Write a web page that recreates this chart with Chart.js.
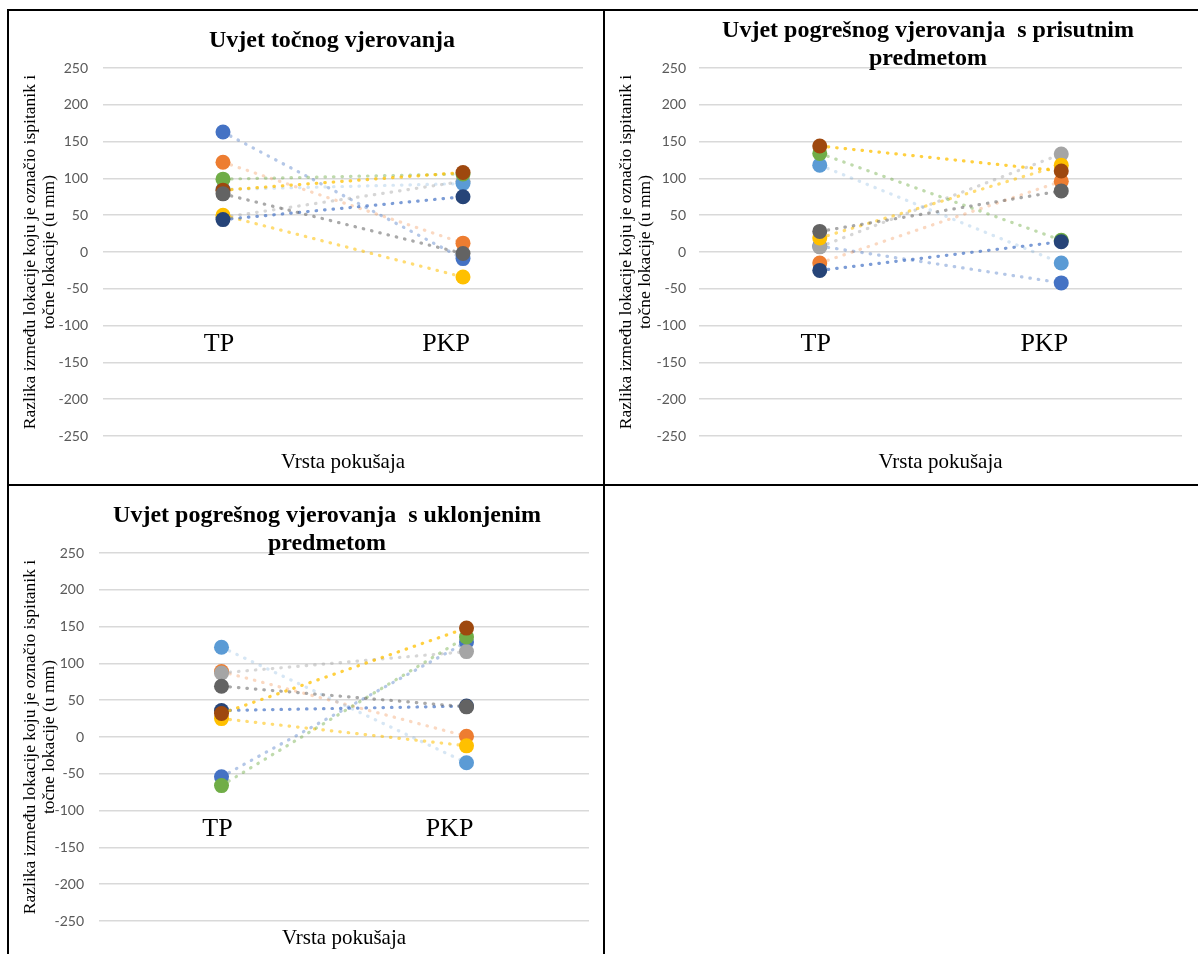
<!DOCTYPE html>
<html>
<head>
<meta charset="utf-8">
<script src="https://cdn.jsdelivr.net/npm/chart.js@4.4.1/dist/chart.umd.min.js"></script>
<style>
html, body { margin: 0; padding: 0; background: #fff; width: 1198px; height: 954px; overflow: hidden; position: relative; }
.cell { position: absolute; border: 2px solid #000; box-sizing: border-box; }
canvas { position: absolute; }
.ttl { position: absolute; width: 600px; text-align: center; white-space: pre;
       font-family: 'Liberation Serif', 'Times New Roman', serif; font-weight: bold;
       font-size: 24px; line-height: 27.6px; color: #000; }
</style>
</head>
<body>
<div class="cell" style="left:7px;top:9px;width:598px;height:477px"></div>
<div class="cell" style="left:603px;top:9px;width:700px;height:477px"></div>
<div class="cell" style="left:7px;top:484px;width:598px;height:600px"></div>
<div class="cell" style="left:603px;top:484px;width:700px;height:600px"></div>
<canvas id="c1" width="594" height="473" style="left:9px;top:11px"></canvas>
<canvas id="c2" width="593" height="473" style="left:605px;top:11px"></canvas>
<canvas id="c3" width="594" height="468" style="left:9px;top:486px"></canvas>
<div class="ttl" id="t1" style="left:32px;top:26px"></div>
<div class="ttl" id="t2" style="left:628px;top:16px"></div>
<div class="ttl" id="t3" style="left:27px;top:501px"></div>
<script>
// ---------- data ----------
const CATEGORIES = ['TP', 'PKP'];
const SERIES = ['Ispitanik 1', 'Ispitanik 2', 'Ispitanik 3', 'Ispitanik 4', 'Ispitanik 5',
                'Ispitanik 6', 'Ispitanik 7', 'Ispitanik 8', 'Ispitanik 9'];
const TITLE_TOCNO = ['Uvjet točnog vjerovanja'];
const TITLE_PRISUTNI = ['Uvjet pogrešnog vjerovanja  s prisutnim', 'predmetom'];
const TITLE_UKLONJENI = ['Uvjet pogrešnog vjerovanja  s uklonjenim', 'predmetom'];
const Y_TITLE = ['Razlika između lokacije koju je označio ispitanik i', 'točne lokacije (u mm)'];
const X_TITLE = 'Vrsta pokušaja';
const Y_MIN = -250, Y_MAX = 250, Y_STEP = 50;

const TOCNO_TP      = [163, 122, 47, 50, 85, 99, 44, 84, 79];
const TOCNO_PKP     = [-9, 12, 96, -34, 93, 106, 75, 108, -2];
const PRISUTNI_TP   = [8, -15, 7, 19, 118, 134, -25, 144, 28];
const PRISUTNI_PKP  = [-42, 96, 133, 118, -15, 16, 14, 110, 83];
const UKLONJENI_TP  = [-54, 89, 87, 25, 122, -66, 36, 32, 69];
const UKLONJENI_PKP = [129, 1, 116, -12, -35, 136, 42, 148, 41];

// ---------- style ----------
const MARKER_COLORS = ['#4472C4', '#ED7D31', '#A5A5A5', '#FFC000', '#5B9BD5',
                       '#70AD47', '#264478', '#9E480E', '#636363'];
const LINE_COLORS = ['rgba(68,114,196,0.40)', 'rgba(237,125,49,0.30)', 'rgba(165,165,165,0.45)',
                     'rgba(255,192,0,0.55)', 'rgba(91,155,213,0.25)', 'rgba(112,173,71,0.45)',
                     'rgba(68,114,196,0.70)', 'rgba(255,192,0,0.75)', 'rgba(99,99,99,0.55)'];
const SERIF = "'Liberation Serif', 'Times New Roman', serif";
const LABEL_ROW_VALUE = -104;          // where the TP / PKP row sits
const LABEL_SHIFT = [-4, -17];         // horizontal nudge of TP / PKP text

function makeChart(id, titleId, title, tp, pkp, lay) {
  document.getElementById(titleId).textContent = title.join('\n');
  const canvas = document.getElementById(id);
  const H = canvas.height;
  const datasets = SERIES.map((name, i) => ({
    label: name,
    data: [tp[i], pkp[i]],
    borderColor: LINE_COLORS[i],
    borderWidth: 3.2,
    borderDash: [0.5, 8],
    borderCapStyle: 'round',
    pointRadius: 7.5,
    pointBackgroundColor: MARKER_COLORS[i],
    pointBorderColor: MARKER_COLORS[i],
    pointBorderWidth: 0,
    fill: false,
    tension: 0,
    order: SERIES.length - i,
    xAxisID: 'x', yAxisID: 'y'
  }));
  const labelAxis = (k) => ({
    type: 'category',
    labels: CATEGORIES.map((c, j) => (j === k ? c : '')),
    offset: true,
    position: { y: LABEL_ROW_VALUE },
    grid: { display: false, drawTicks: false },
    border: { display: false },
    ticks: { font: { family: SERIF, size: 26, lineHeight: 1.2 }, color: '#000',
             padding: 0, labelOffset: LABEL_SHIFT[k], maxRotation: 0, autoSkip: false }
  });
  return new Chart(canvas, {
    type: 'line',
    data: { labels: CATEGORIES, datasets },
    options: {
      responsive: false,
      animation: false,
      events: [],
      layout: { padding: { left: 0, right: lay.R, top: lay.top, bottom: 0 } },
      plugins: {
        legend: { display: false },
        tooltip: { enabled: false },
        title: { display: false }
      },
      scales: {
        x: {
          type: 'category', offset: true,
          grid: { display: false, drawTicks: false },
          border: { display: false },
          ticks: { display: false },
          title: { display: true, text: X_TITLE, color: '#000',
                   font: { family: SERIF, size: 21, lineHeight: 1.2 },
                   padding: { top: 0, bottom: lay.xPad } },
          afterFit: (s) => { s.height = H - lay.bottom; }
        },
        x2: labelAxis(0),
        x3: labelAxis(1),
        y: {
          min: Y_MIN, max: Y_MAX,
          grid: { color: '#d9d9d9', lineWidth: 1.5, drawTicks: false },
          border: { display: false },
          ticks: { stepSize: Y_STEP, color: '#595959', padding: lay.tickPad,
                   font: { family: "Lato, 'Liberation Sans', sans-serif", size: 14 } },
          title: { display: true, text: Y_TITLE, color: '#000',
                   font: { family: SERIF, size: 17.5, lineHeight: 1.1 },
                   padding: { top: 11.5, bottom: 0 } },
          afterFit: (s) => { s.width = lay.left; }
        }
      }
    }
  });
}

makeChart('c1', 't1', TITLE_TOCNO, TOCNO_TP, TOCNO_PKP,
  { R: 20, top: 57, left: 94, bottom: 425, xPad: 9.4, tickPad: 15 });
makeChart('c2', 't2', TITLE_PRISUTNI, PRISUTNI_TP, PRISUTNI_PKP,
  { R: 16, top: 57, left: 94, bottom: 425, xPad: 9.4, tickPad: 13 });
makeChart('c3', 't3', TITLE_UKLONJENI, UKLONJENI_TP, UKLONJENI_PKP,
  { R: 14, top: 67, left: 90, bottom: 435, xPad: 3.4, tickPad: 15 });
</script>
</body>
</html>
